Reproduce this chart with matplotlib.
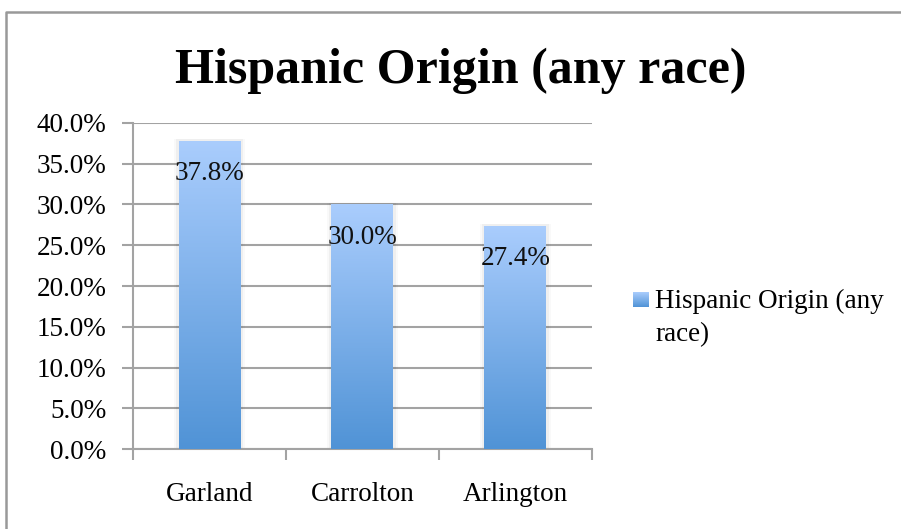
import matplotlib.pyplot as plt
import matplotlib.colors as mcolors
from matplotlib.lines import Line2D
import numpy as np

cities = ['Garland', 'Carrolton', 'Arlington']
hispanic_pct = [37.8, 30.0, 27.4]
yticks = [0, 5, 10, 15, 20, 25, 30, 35, 40]
series_name = 'Hispanic Origin (any race)'

serif = ['Liberation Serif', 'DejaVu Serif']
fs = 19.5
grid_col = '#a3a3a3'
top_col = '#aacdfd'
bot_col = '#5093d6'

fig = plt.figure(figsize=(9.01, 5.29), dpi=100)
ax = fig.add_axes([0.1476, 0.1512, 0.5094, 0.6163])

x = np.arange(len(cities))
bars = ax.bar(x, hispanic_pct, width=0.405, color='none', zorder=3)

# vertical gradient fill for each bar, clipped to the bar shape
cmap = mcolors.LinearSegmentedColormap.from_list('bar_grad', [bot_col, top_col])
grad = np.linspace(0, 1, 256).reshape(-1, 1)
for b in bars:
    x0, y0 = b.get_x(), b.get_y()
    w, h = b.get_width(), b.get_height()
    # faint shadow around the bar
    for k, a in [(0.03, 0.025), (0.015, 0.04)]:
        ax.add_patch(plt.Rectangle((x0 - k, y0), w + 2 * k, h + 0.2,
                                   color='#000000', alpha=a, lw=0, zorder=2))
    im = ax.imshow(grad, cmap=cmap, origin='lower', aspect='auto',
                   extent=[x0, x0 + w, y0, y0 + h], zorder=3)
    im.set_clip_path(b)
    ax.text(x0 + w / 2, h - 4.0, f'{h:.1f}%', ha='center', va='center',
            fontsize=fs, family=serif, color='#111111', zorder=5)

ax.set_xlim(-0.5, len(cities) - 0.5)
ax.set_ylim(0, 40)
ax.set_yticks(yticks)
ax.set_yticklabels([f'{v:.1f}%' for v in yticks], family=serif, fontsize=fs)
ax.yaxis.grid(True, color=grid_col, lw=1.5, zorder=1)
ax.tick_params(axis='y', length=8, width=1.5, color=grid_col, pad=11)

# category ticks sit between the bars
ax.set_xticks(np.arange(-0.5, len(cities)), minor=False)
ax.set_xticklabels([])
ax.set_xticks(x, minor=True)
ax.set_xticklabels(cities, minor=True, family=serif, fontsize=fs)
ax.tick_params(axis='x', which='major', length=8, width=1.5, color=grid_col)
ax.tick_params(axis='x', which='minor', length=0, pad=24)

for s in ['top', 'right']:
    ax.spines[s].set_visible(False)
for s in ['left', 'bottom']:
    ax.spines[s].set_color(grid_col)
    ax.spines[s].set_linewidth(1.5)
ax.set_axisbelow(True)

fig.text(0.511, 0.866, series_name, ha='center', va='center',
         fontsize=36, fontweight='bold', family=serif)

# legend: gradient swatch plus wrapped label
lax = fig.add_axes([633 / 901, 1 - 307 / 529, 16 / 901, 15 / 529])
lax.imshow(grad, cmap=cmap, origin='lower', aspect='auto')
lax.set_axis_off()
fig.text(655 / 901, 1 - 301 / 529, 'Hispanic Origin (any', ha='left', va='center',
         fontsize=fs, family=serif)
fig.text(655 / 901, 1 - 335 / 529, 'race)', ha='left', va='center',
         fontsize=fs, family=serif)

# chart area frame
fig.add_artist(Line2D([6 / 901, 6 / 901, 1], [0, 1 - 12 / 529, 1 - 12 / 529],
                      transform=fig.transFigure, color='#999999', lw=1.8))

fig.savefig('out.png', dpi=100)
